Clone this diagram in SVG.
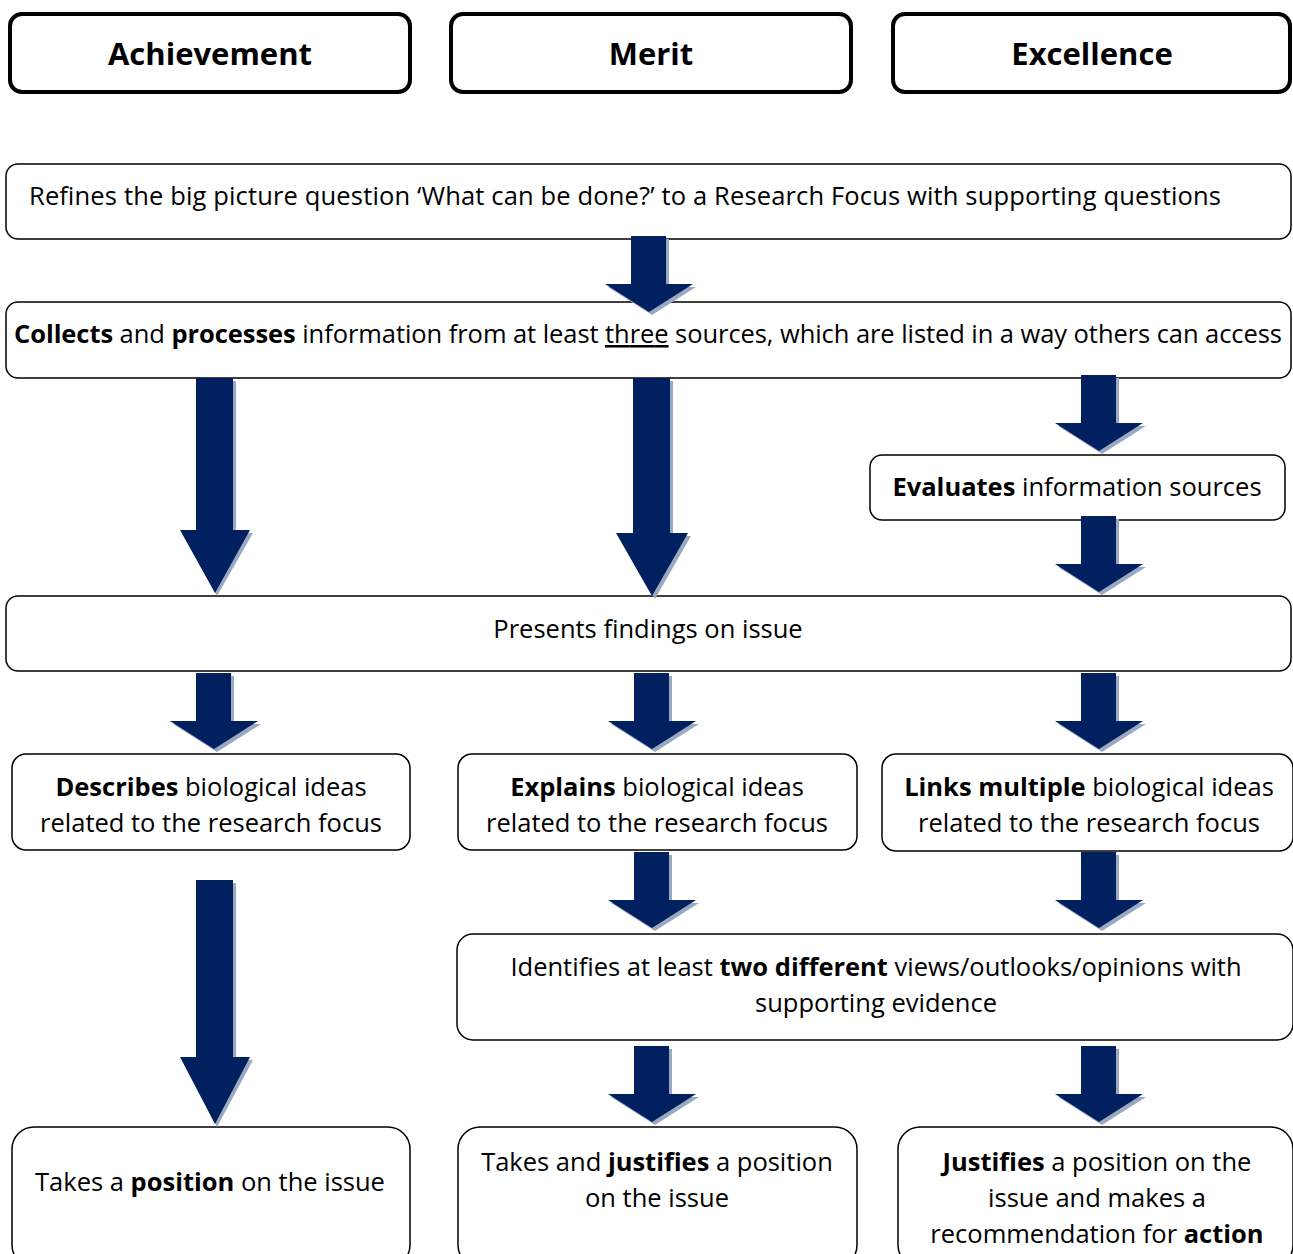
<svg xmlns="http://www.w3.org/2000/svg" width="1293" height="1254" viewBox="0 0 1293 1254">
<defs>
<style>
.hdr{fill:#fff;stroke:#000;stroke-width:4}
.box{fill:#fff;stroke:#000;stroke-width:1.5}
text{font-family:"Open Sans","Liberation Sans",sans-serif;font-size:25.5px;fill:#000}
.h{font-size:31px;font-weight:bold;text-anchor:middle}
.c{text-anchor:middle}
.b{font-weight:bold}
.arr{fill:#002060}
.sh{fill:#9aa9c0}
</style>
<g id="ar-s">
<polygon class="sh" points="-15,3 20,3 20,51 47,51 3,79 -41,51 -15,51"/>
<polygon class="arr" points="-18,0 17,0 17,48 44,48 0,76 -44,48 -18,48"/>
</g>
</defs>
<rect width="1293" height="1254" fill="#fff"/>

<g id="hdr-achievement"><rect class="hdr" x="10" y="14" width="400" height="78" rx="12"/><text class="h" x="210" y="65">Achievement</text></g>
<g id="hdr-merit"><rect class="hdr" x="451" y="14" width="400" height="78" rx="12"/><text class="h" x="651" y="65">Merit</text></g>
<g id="hdr-excellence"><rect class="hdr" x="893" y="14" width="397" height="78" rx="12"/><text class="h" x="1092" y="65">Excellence</text></g>

<g id="n-refines"><rect class="box" x="6" y="164" width="1285" height="75" rx="12"/><text x="29" y="205" textLength="1192">Refines the big picture question ‘What can be done?’ to a Research Focus with supporting questions</text></g>

<g id="n-collects"><rect class="box" x="6" y="302" width="1285" height="76" rx="12"/><text x="14" y="343" textLength="1268"><tspan class="b">Collects</tspan> and <tspan class="b">processes</tspan> information from at least <tspan text-decoration="underline">three</tspan> sources, which are listed in a way others can access</text></g>

<g id="n-evaluates"><rect class="box" x="870" y="455" width="415" height="65" rx="12"/><text class="c" x="1077" y="496"><tspan class="b">Evaluates</tspan> information sources</text></g>

<g id="n-presents"><rect class="box" x="6" y="596" width="1285" height="75" rx="12"/><text class="c" x="648" y="638">Presents findings on issue</text></g>

<g id="n-describes"><rect class="box" x="12" y="754" width="398" height="96" rx="14"/><text class="c" x="211" y="796"><tspan class="b">Describes</tspan> biological ideas</text><text class="c" x="211" y="832">related to the research focus</text></g>

<g id="n-explains"><rect class="box" x="458" y="754" width="399" height="96" rx="14"/><text class="c" x="657" y="796"><tspan class="b">Explains</tspan> biological ideas</text><text class="c" x="657" y="832">related to the research focus</text></g>

<g id="n-links"><rect class="box" x="882" y="754" width="411" height="97" rx="14"/><text class="c" x="1089" y="796"><tspan class="b">Links multiple</tspan> biological ideas</text><text class="c" x="1089" y="832">related to the research focus</text></g>

<g id="n-identifies"><rect class="box" x="457" y="934" width="836" height="106" rx="16"/><text class="c" x="876" y="976">Identifies at least <tspan class="b">two different</tspan> views/outlooks/opinions with</text><text class="c" x="876" y="1012">supporting evidence</text></g>

<g id="n-position"><rect class="box" x="12" y="1127" width="398" height="140" rx="22"/><text class="c" x="210" y="1191">Takes a <tspan class="b">position</tspan> on the issue</text></g>

<g id="n-justifies"><rect class="box" x="458" y="1127" width="399" height="140" rx="22"/><text class="c" x="657" y="1171">Takes and <tspan class="b">justifies</tspan> a position</text><text class="c" x="657" y="1207">on the issue</text></g>

<g id="n-recommend"><rect class="box" x="898" y="1127" width="395" height="140" rx="22"/><text class="c" x="1097" y="1171"><tspan class="b">Justifies</tspan> a position on the</text><text class="c" x="1097" y="1207">issue and makes a</text><text class="c" x="1097" y="1243">recommendation for <tspan class="b">action</tspan></text></g>

<g id="connectors">
<use href="#ar-s" x="649" y="236"/>
<polygon class="sh" points="200,381 236,381 236,533 253,533 217,596 183,533 200,533"/>
<polygon class="arr" points="196,378 233,378 233,530 250,530 215,593 180,530 196,530"/>
<polygon class="sh" points="637,381 673,381 673,536 691,536 655,599 619,536 637,536"/>
<polygon class="arr" points="633,378 670,378 670,533 688,533 652,596 616,533 633,533"/>
<use href="#ar-s" x="1099" y="375"/>
<use href="#ar-s" x="1099" y="516"/>
<use href="#ar-s" x="214" y="673"/>
<use href="#ar-s" x="652" y="673"/>
<use href="#ar-s" x="1099" y="673"/>
<polygon class="sh" points="200,883 236,883 236,1060 253,1060 217,1127 183,1060 200,1060"/>
<polygon class="arr" points="196,880 233,880 233,1057 250,1057 215,1124 180,1057 196,1057"/>
<use href="#ar-s" x="652" y="852"/>
<use href="#ar-s" x="1099" y="852"/>
<use href="#ar-s" x="652" y="1046"/>
<use href="#ar-s" x="1099" y="1046"/>
</g>
</svg>
